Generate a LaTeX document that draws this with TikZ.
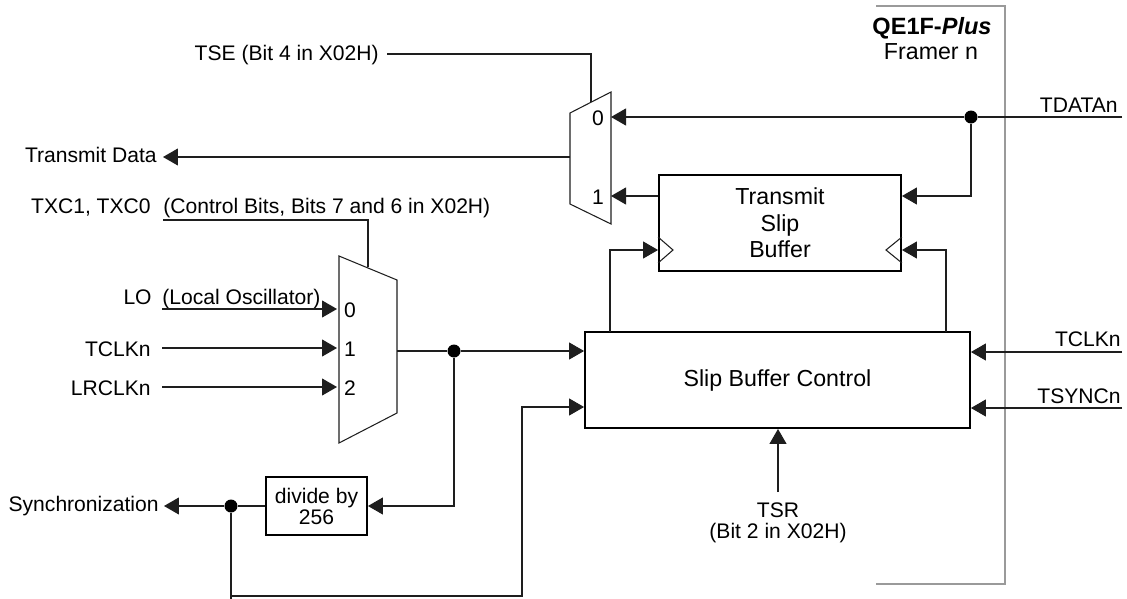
\documentclass[tikz,border=0pt]{standalone}
\usepackage{fontspec}
\setmainfont{Liberation Sans}
\usetikzlibrary{arrows.meta, positioning}
\definecolor{mline}{HTML}{1E1E1E}
\definecolor{mframe}{HTML}{9A9A9A}
\tikzset{
  bbox/.style={draw=black, line width=1.1pt, inner sep=0pt, align=center,
               font=\fontsize{13.2}{15.1}\selectfont},
  lbl/.style={inner sep=0pt, font=\fontsize{12}{14}\selectfont},
  wire/.style={draw=mline, line width=0.6pt},
  arr/.style={wire, -{Triangle[length=0.3cm, width=0.34cm]}},
  muxs/.style={draw=mline, line width=0.6pt, line join=miter},
  dot/.style={circle, fill=black, inner sep=0pt, minimum size=0.26cm},
}
\begin{document}
\begin{tikzpicture}[x=0.02cm, y=-0.02cm]
  \useasboundingbox (0,0) rectangle (1127,599);
  % Framer outline
  \draw[draw=mframe, line width=0.7pt] (876,6) -- (1005,6) -- (1005,584) -- (876,584);
  \node[lbl, anchor=base, font=\fontsize{13.4}{15}\selectfont\bfseries] (title) at (932,34) {QE1F-\textit{Plus}};
  \node[lbl, anchor=base, font=\fontsize{13.2}{15}\selectfont] (framer) at (931,59) {Framer n};
  % Upper mux
  \coordinate (ma) at (570,113);
  \coordinate (mb) at (611,92);
  \coordinate (mc) at (611,224);
  \coordinate (md) at (570,204);
  \draw[muxs] (mb) -- (mc) -- (md) -- (ma) -- cycle;
  \node[lbl, anchor=base] (ma0) at (598,125) {0};
  \node[lbl, anchor=base] (ma1) at (598,204) {1};
  \coordinate (main0) at (611,117);
  \coordinate (main1) at (611,196);
  \coordinate (maout) at (570,157);
  \coordinate (masel) at (591,102);
  % Lower mux
  \coordinate (na) at (339,256);
  \coordinate (nb) at (397,280);
  \coordinate (nc) at (397,413);
  \coordinate (nd) at (339,443);
  \draw[muxs] (na) -- (nb) -- (nc) -- (nd) -- cycle;
  \node[lbl, anchor=base] (mb0) at (350,317) {0};
  \node[lbl, anchor=base] (mb1) at (350,356) {1};
  \node[lbl, anchor=base] (mb2) at (350,395) {2};
  \coordinate (mbin0) at (337,309);
  \coordinate (mbin1) at (337,348);
  \coordinate (mbin2) at (337,387);
  \coordinate (mbout) at (397,351);
  \coordinate (mbsel) at (368,267);
  % Blocks
  \node[bbox, minimum width=4.84cm, minimum height=1.92cm] (txbuf) at (780,223) {Transmit\\Slip\\Buffer};
  \node[bbox, minimum width=7.7cm, minimum height=1.92cm] (ctrl) at (777.5,380) {Slip Buffer Control};
  \node[bbox, font=\fontsize{12}{12}\selectfont, minimum width=2.02cm, minimum height=1.16cm] (divb) at (316.5,506) {divide by\\256};
  % Clock marks
  \draw[muxs] (txbuf.west |- 0,237) -- (673,250) -- (txbuf.west |- 0,263);
  \draw[muxs] (txbuf.east |- 0,237) -- (886,250) -- (txbuf.east |- 0,263);
  % Labels
  \node[lbl, anchor=base east] (tse) at (379,60) {TSE (Bit 4 in X02H)};
  \node[lbl, anchor=base east] (txd) at (157,162) {Transmit Data};
  \node[lbl, anchor=base east] (txc) at (151,213) {TXC1, TXC0};
  \node[lbl, anchor=base west] (txcn) at (163,213) {(Control Bits, Bits 7 and 6 in X02H)};
  \node[lbl, anchor=base east] (lo) at (152,304) {LO};
  \node[lbl, anchor=base west] (lon) at (162,304) {(Local Oscillator)};
  \node[lbl, anchor=base east] (tclkl) at (151,356) {TCLKn};
  \node[lbl, anchor=base east] (lrclk) at (151,395) {LRCLKn};
  \node[lbl, anchor=base east] (sync) at (159,511) {Synchronization};
  \node[lbl, anchor=base east] (tdata) at (1118,112) {TDATAn};
  \node[lbl, anchor=base east] (tclkr) at (1121,346) {TCLKn};
  \node[lbl, anchor=base east] (tsync) at (1121,403) {TSYNCn};
  \node[lbl, anchor=base] (tsr) at (778,517) {TSR};
  \node[lbl, anchor=base] (tsrn) at (778,538) {(Bit 2 in X02H)};
  % Junctions
  \node[dot] (jdata) at (971,117) {};
  \node[dot] (jclk) at (454,351) {};
  \node[dot] (jsync) at (231,506) {};
  % Upper connections
  \coordinate (tses) at (387,54);
  \coordinate (txdp) at (163,157);
  \draw[wire] (tses) -- (591,54) -- (masel);
  \draw[arr] (maout) -- (txdp);
  \coordinate (edata) at (1122,117);
  \draw[wire] (edata) -- (jdata);
  \draw[arr] (jdata) -- (main0);
  \coordinate (bufin) at (txbuf.east |- 0,196);
  \coordinate (bufout) at (txbuf.west |- 0,196);
  \draw[arr] (jdata) |- (bufin);
  \draw[arr] (bufout) -- (main1);
  % Clock inputs from control
  \coordinate (cl) at (610,332);
  \coordinate (cr) at (946,332);
  \coordinate (clkl) at (txbuf.west |- 0,250);
  \coordinate (clkr) at (txbuf.east |- 0,250);
  \draw[arr] (cl) |- (clkl);
  \draw[arr] (cr) |- (clkr);
  % Lower mux connections
  \coordinate (txcs) at (163,220);
  \draw[wire] (txcs) -- (368,220) -- (mbsel);
  \coordinate (los) at (162,309);
  \coordinate (tclks) at (162,348);
  \coordinate (lrclks) at (162,387);
  \draw[arr] (los) -- (mbin0);
  \draw[arr] (tclks) -- (mbin1);
  \draw[arr] (lrclks) -- (mbin2);
  \draw[wire] (mbout) -- (jclk);
  \coordinate (cin1) at (ctrl.west |- 0,351);
  \coordinate (cin2) at (ctrl.west |- 0,407);
  \draw[arr] (jclk) -- (cin1);
  \draw[arr] (jclk) |- (divb.east);
  % Sync path
  \coordinate (syncp) at (164,506);
  \draw[wire] (divb.west) -- (jsync);
  \draw[arr] (jsync) -- (syncp);
  \coordinate (bend) at (231,599);
  \coordinate (bots) at (231,596);
  \coordinate (bot) at (522,596);
  \draw[wire] (jsync) -- (bend);
  \draw[arr] (bots) -- (bot) |- (cin2);
  % Right side inputs
  \coordinate (etclk) at (1122,352);
  \coordinate (etsync) at (1122,408);
  \draw[arr] (etclk) -- (ctrl.east |- etclk);
  \draw[arr] (etsync) -- (ctrl.east |- etsync);
  \coordinate (etsr) at (778,492);
  \draw[arr] (etsr) -- (ctrl.south -| etsr);
\end{tikzpicture}
\end{document}
